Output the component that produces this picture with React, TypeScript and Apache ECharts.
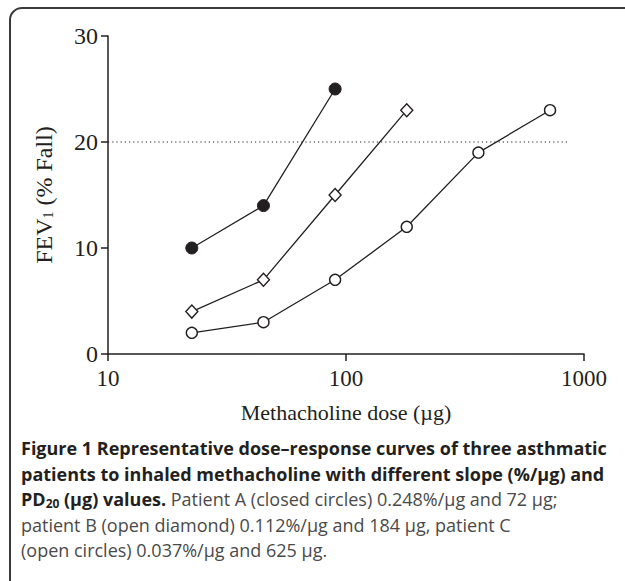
import React, { useEffect, useRef } from "react";
import * as echarts from "echarts";

// Data
const doses = [22.5, 45, 90, 180, 360, 720];
const patientA = [10, 14, 25];
const patientB = [4, 7, 15, 23];
const patientC = [2, 3, 7, 12, 19, 23];
const thresholdDoses = [10, 870];
const thresholdValue = 20;
const xTicks = [10, 100, 1000];
const yTicks = [0, 10, 20, 30];

const captionLines = [
  "{b|Figure 1 Representative dose\u2013response curves of three asthmatic}",
  "{b|patients to inhaled methacholine with different slope (%/\u00b5g) and}",
  "{b|PD}{sub|20}{b| (\u00b5g) values.}{r| Patient A (closed circles) 0.248%/\u00b5g and 72 \u00b5g;}",
  "{r|patient B (open diamond) 0.112%/\u00b5g and 184 \u00b5g, patient C}",
  "{r|(open circles) 0.037%/\u00b5g and 625 \u00b5g.}",
];

const INK = "#231f20";
const SERIF = "'Liberation Serif', 'DejaVu Serif', serif";
const SANS = "'Open Sans', 'Noto Sans', sans-serif";

function pairs(vals: number[]) {
  return vals.map((v, i) => [doses[i], v]);
}

export default function App() {
  const ref = useRef<HTMLDivElement>(null);
  useEffect(() => {
    document.body.style.margin = "0";
    const chart = echarts.init(ref.current!, undefined, { renderer: "svg" });
    const captionRich = {
      b: { fontFamily: SANS, fontWeight: "bold", fontSize: 18, fill: INK, color: INK },
      sub: { fontFamily: SANS, fontWeight: "bold", fontSize: 12, fill: INK, color: INK, padding: [8, 0, 0, 0] },
      r: { fontFamily: SANS, fontSize: 18, fill: "#4a4a4a", color: "#4a4a4a" },
    };
    const option: any = {
      animation: false,
      backgroundColor: "#fff",
      grid: { left: 108, right: 41, top: 36, bottom: 227 },
      xAxis: {
        type: "log",
        logBase: 10,
        min: xTicks[0],
        max: xTicks[xTicks.length - 1],
        name: "Methacholine dose (\u00b5g)",
        nameLocation: "middle",
        nameGap: 47,
        nameTextStyle: { fontFamily: SERIF, fontSize: 22, color: INK },
        axisLine: { lineStyle: { color: INK, width: 1.5 } },
        axisTick: { show: true, inside: false, length: 7, lineStyle: { color: INK, width: 1.5 } },
        minorTick: { show: false },
        splitLine: { show: false },
        axisLabel: {
          fontFamily: SERIF,
          fontSize: 23,
          color: INK,
          margin: 13,
          formatter: (v: number) => String(v),
        },
      },
      yAxis: {
        type: "value",
        min: yTicks[0],
        max: yTicks[yTicks.length - 1],
        interval: 10,
        name: "FEV{sub|1} (% Fall)",
        nameLocation: "middle",
        nameGap: 52,
        nameRotate: 90,
        nameTextStyle: {
          fontFamily: SERIF,
          fontSize: 24,
          color: INK,
          rich: { sub: { fontFamily: SERIF, fontSize: 14, color: INK, padding: [9, 0, 0, 0] } },
        },
        axisLine: { show: true, lineStyle: { color: INK, width: 1.5 } },
        axisTick: { show: true, inside: false, length: 7, lineStyle: { color: INK, width: 1.5 } },
        splitLine: { show: false },
        axisLabel: { fontFamily: SERIF, fontSize: 24, color: INK, margin: 10 },
      },
      series: [
        {
          type: "line",
          data: thresholdDoses.map((d) => [d, thresholdValue]),
          symbol: "none",
          lineStyle: { color: INK, width: 1.1, type: [1.2, 3] },
          silent: true,
        },
        {
          type: "line",
          data: pairs(patientA),
          symbol: "circle",
          symbolSize: 12,
          lineStyle: { color: INK, width: 1.3 },
          itemStyle: { color: INK, borderColor: INK, borderWidth: 1 },
        },
        {
          type: "line",
          data: pairs(patientB),
          symbol: "diamond",
          symbolSize: [12, 13],
          lineStyle: { color: INK, width: 1.3 },
          itemStyle: { color: "#fff", borderColor: INK, borderWidth: 1.4 },
        },
        {
          type: "line",
          data: pairs(patientC),
          symbol: "circle",
          symbolSize: 11,
          lineStyle: { color: INK, width: 1.3 },
          itemStyle: { color: "#fff", borderColor: INK, borderWidth: 1.4 },
        },
      ],
      graphic: [
        {
          type: "rect",
          shape: { x: 10, y: 8, width: 700, height: 700, r: 12 },
          style: { fill: "none", stroke: "#3a3a3a", lineWidth: 2 },
          silent: true,
        },
        ...captionLines.map((line, i) => ({
          type: "text",
          left: 21,
          top: 439 + i * 25.5,
          style: { text: line, rich: captionRich, fontFamily: SANS, fontSize: 18, fill: INK },
        })),
      ],
    };
    chart.setOption(option);
    return () => chart.dispose();
  }, []);
  return <div ref={ref} style={{ width: 625, height: 581 }} />;
}
